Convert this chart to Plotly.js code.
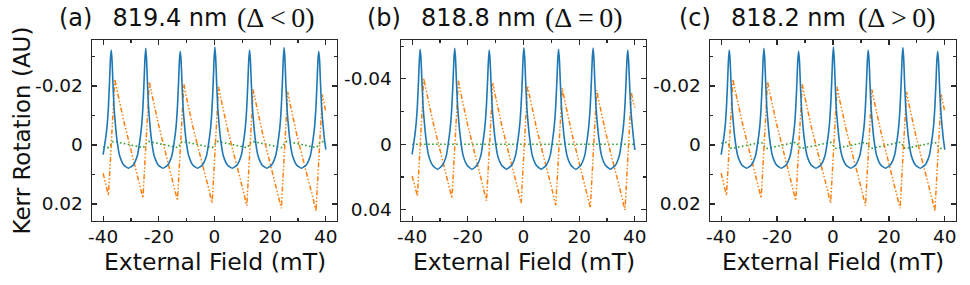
<!DOCTYPE html>
<html>
<head>
<meta charset="utf-8">
<script src="https://cdn.plot.ly/plotly-3.0.1.min.js"></script>
<style>html,body{margin:0;padding:0;background:#fff;}#chart{width:970px;height:285px;}</style>
</head>
<body>
<div id="chart"></div>
<script>
// External field (mT), shared by all curves
const field = [
 -40, -39.1, -38.6, -38.1, -37.7, -37.4, -37.1, -36.8, -36.5, -36.1, -35.8, -35.1, -34.1, -32.6, -30.9,
 -29.2, -27.7, -26.7, -26.2, -25.7, -25.3, -25.0, -24.7, -24.4, -24.1, -23.7, -23.4, -22.7, -21.7, -20.2, -18.5,
 -16.8, -15.3, -14.3, -13.8, -13.3, -12.9, -12.6, -12.3, -12.0, -11.7, -11.3, -11.0, -10.3, -9.3, -7.8, -6.1,
 -4.35, -2.85, -1.85, -1.35, -0.85, -0.45, -0.15, 0.15, 0.45, 0.75, 1.15, 1.45, 2.15, 3.15, 4.65, 6.35,
 8.1, 9.6, 10.6, 11.1, 11.6, 12.0, 12.3, 12.6, 12.9, 13.2, 13.6, 13.9, 14.6, 15.6, 17.1, 18.8,
 20.5, 22.0, 23.0, 23.5, 24.0, 24.4, 24.7, 25.0, 25.3, 25.6, 26.0, 26.3, 27.0, 28.0, 29.5, 31.2,
 32.95, 34.45, 35.45, 35.95, 36.45, 36.85, 37.15, 37.45, 37.75, 38.05, 38.45, 38.75, 39.45, 40.0
];

// Panel (a) and (c): blue (solid)
const blueA = [
 0.0033, -0.0022, -0.0062, -0.0130, -0.0215, -0.0288, -0.0322, -0.0288, -0.0215, -0.0130, -0.0092, -0.0022, 0.0036, 0.0068, 0.0079,
 0.0068, 0.0036, -0.0022, -0.0062, -0.0130, -0.0215, -0.0290, -0.0328, -0.0290, -0.0215, -0.0130, -0.0092, -0.0022, 0.0036, 0.0068, 0.0079,
 0.0068, 0.0036, -0.0022, -0.0062, -0.0130, -0.0215, -0.0286, -0.0318, -0.0286, -0.0215, -0.0130, -0.0092, -0.0022, 0.0036, 0.0068, 0.0079,
 0.0068, 0.0036, -0.0022, -0.0062, -0.0130, -0.0215, -0.0292, -0.0332, -0.0292, -0.0215, -0.0130, -0.0092, -0.0022, 0.0036, 0.0068, 0.0079,
 0.0068, 0.0036, -0.0022, -0.0062, -0.0130, -0.0215, -0.0288, -0.0322, -0.0288, -0.0215, -0.0130, -0.0092, -0.0022, 0.0036, 0.0068, 0.0079,
 0.0068, 0.0036, -0.0022, -0.0062, -0.0130, -0.0215, -0.0291, -0.0330, -0.0291, -0.0215, -0.0130, -0.0092, -0.0022, 0.0036, 0.0068, 0.0079,
 0.0068, 0.0036, -0.0022, -0.0062, -0.0130, -0.0215, -0.0286, -0.0318, -0.0286, -0.0215, -0.0130, -0.0092, -0.0022, 0.0016
];
const blueC = blueA.slice();

// orange (dash-dot)
const orangeA = [
 0.0096, 0.0131, 0.0153, 0.0171, 0.0104, 0.0052, -0.0008, -0.0068, -0.0128, -0.0195, -0.0223, -0.0190, -0.0144, -0.0081, -0.0017,
 0.0045, 0.0101, 0.0139, 0.0162, 0.0180, 0.0112, 0.0060, 0.0001, -0.0059, -0.0119, -0.0187, -0.0214, -0.0181, -0.0135, -0.0072, -0.0008,
 0.0053, 0.0109, 0.0148, 0.0170, 0.0189, 0.0121, 0.0069, 0.0009, -0.0050, -0.0110, -0.0178, -0.0206, -0.0172, -0.0127, -0.0063, 0.0001,
 0.0062, 0.0118, 0.0157, 0.0179, 0.0197, 0.0130, 0.0078, 0.0018, -0.0042, -0.0101, -0.0169, -0.0197, -0.0163, -0.0118, -0.0055, 0.0009,
 0.0071, 0.0127, 0.0165, 0.0188, 0.0206, 0.0138, 0.0087, 0.0027, -0.0033, -0.0093, -0.0160, -0.0188, -0.0155, -0.0109, -0.0046, 0.0018,
 0.0079, 0.0135, 0.0174, 0.0196, 0.0215, 0.0147, 0.0095, 0.0036, -0.0024, -0.0084, -0.0152, -0.0180, -0.0146, -0.0100, -0.0037, 0.0027,
 0.0088, 0.0144, 0.0183, 0.0205, 0.0224, 0.0156, 0.0104, 0.0044, -0.0016, -0.0075, -0.0143, -0.0171, -0.0137, -0.0112
];
const orangeC = orangeA.slice();

// green (dotted)
const greenA = [
 0.0006, 0.0008, 0.0009, 0.0009, 0.0006, 0.0002, -0.0003, -0.0008, -0.0011, -0.0012, -0.0012, -0.0010, -0.0008, -0.0005, -0.0001,
 0.0003, 0.0006, 0.0008, 0.0009, 0.0009, 0.0006, 0.0002, -0.0003, -0.0008, -0.0011, -0.0012, -0.0012, -0.0010, -0.0008, -0.0005, -0.0001,
 0.0003, 0.0006, 0.0008, 0.0009, 0.0009, 0.0006, 0.0002, -0.0003, -0.0008, -0.0011, -0.0012, -0.0012, -0.0010, -0.0008, -0.0005, -0.0001,
 0.0003, 0.0006, 0.0008, 0.0009, 0.0009, 0.0006, 0.0002, -0.0003, -0.0008, -0.0011, -0.0012, -0.0012, -0.0010, -0.0008, -0.0005, -0.0001,
 0.0003, 0.0006, 0.0008, 0.0009, 0.0009, 0.0006, 0.0002, -0.0003, -0.0008, -0.0011, -0.0012, -0.0012, -0.0010, -0.0008, -0.0005, -0.0001,
 0.0003, 0.0006, 0.0008, 0.0009, 0.0009, 0.0006, 0.0002, -0.0003, -0.0008, -0.0011, -0.0012, -0.0012, -0.0010, -0.0008, -0.0005, -0.0001,
 0.0003, 0.0006, 0.0008, 0.0009, 0.0009, 0.0006, 0.0002, -0.0003, -0.0008, -0.0011, -0.0012, -0.0012, -0.0010, -0.0009
];
const greenC = [
 -0.0006, -0.0008, -0.0009, -0.0009, -0.0006, -0.0002, 0.0003, 0.0008, 0.0011, 0.0012, 0.0012, 0.0010, 0.0008, 0.0005, 0.0001,
 -0.0003, -0.0006, -0.0008, -0.0009, -0.0009, -0.0006, -0.0002, 0.0003, 0.0008, 0.0011, 0.0012, 0.0012, 0.0010, 0.0008, 0.0005, 0.0001,
 -0.0003, -0.0006, -0.0008, -0.0009, -0.0009, -0.0006, -0.0002, 0.0003, 0.0008, 0.0011, 0.0012, 0.0012, 0.0010, 0.0008, 0.0005, 0.0001,
 -0.0003, -0.0006, -0.0008, -0.0009, -0.0009, -0.0006, -0.0002, 0.0003, 0.0008, 0.0011, 0.0012, 0.0012, 0.0010, 0.0008, 0.0005, 0.0001,
 -0.0003, -0.0006, -0.0008, -0.0009, -0.0009, -0.0006, -0.0002, 0.0003, 0.0008, 0.0011, 0.0012, 0.0012, 0.0010, 0.0008, 0.0005, 0.0001,
 -0.0003, -0.0006, -0.0008, -0.0009, -0.0009, -0.0006, -0.0002, 0.0003, 0.0008, 0.0011, 0.0012, 0.0012, 0.0010, 0.0008, 0.0005, 0.0001,
 -0.0003, -0.0006, -0.0008, -0.0009, -0.0009, -0.0006, -0.0002, 0.0003, 0.0008, 0.0011, 0.0012, 0.0012, 0.0010, 0.0009
];

// Panel (b)
const blueB = [
 0.0062, -0.0045, -0.0120, -0.0240, -0.0390, -0.0516, -0.0580, -0.0516, -0.0390, -0.0240, -0.0170, -0.0045, 0.0068, 0.0130, 0.0153,
 0.0130, 0.0068, -0.0045, -0.0120, -0.0240, -0.0390, -0.0521, -0.0586, -0.0521, -0.0390, -0.0240, -0.0170, -0.0045, 0.0068, 0.0130, 0.0153,
 0.0130, 0.0068, -0.0045, -0.0120, -0.0240, -0.0390, -0.0512, -0.0575, -0.0512, -0.0390, -0.0240, -0.0170, -0.0045, 0.0068, 0.0130, 0.0153,
 0.0130, 0.0068, -0.0045, -0.0120, -0.0240, -0.0390, -0.0525, -0.0590, -0.0525, -0.0390, -0.0240, -0.0170, -0.0045, 0.0068, 0.0130, 0.0153,
 0.0130, 0.0068, -0.0045, -0.0120, -0.0240, -0.0390, -0.0516, -0.0580, -0.0516, -0.0390, -0.0240, -0.0170, -0.0045, 0.0068, 0.0130, 0.0153,
 0.0130, 0.0068, -0.0045, -0.0120, -0.0240, -0.0390, -0.0523, -0.0588, -0.0523, -0.0390, -0.0240, -0.0170, -0.0045, 0.0068, 0.0130, 0.0153,
 0.0130, 0.0068, -0.0045, -0.0120, -0.0240, -0.0390, -0.0512, -0.0575, -0.0512, -0.0390, -0.0240, -0.0170, -0.0045, 0.0035
];
const orangeB = [
 0.0194, 0.0243, 0.0284, 0.0316, 0.0194, 0.0099, -0.0010, -0.0118, -0.0228, -0.0351, -0.0401, -0.0340, -0.0257, -0.0143, -0.0027,
 0.0084, 0.0186, 0.0257, 0.0298, 0.0330, 0.0208, 0.0113, 0.0005, -0.0104, -0.0214, -0.0336, -0.0387, -0.0326, -0.0243, -0.0129, -0.0012,
 0.0099, 0.0200, 0.0272, 0.0312, 0.0345, 0.0222, 0.0128, 0.0019, -0.0090, -0.0199, -0.0322, -0.0373, -0.0312, -0.0229, -0.0115, 0.0002,
 0.0113, 0.0215, 0.0286, 0.0326, 0.0359, 0.0236, 0.0142, 0.0033, -0.0075, -0.0185, -0.0308, -0.0358, -0.0298, -0.0214, -0.0101, 0.0016,
 0.0127, 0.0229, 0.0300, 0.0341, 0.0373, 0.0251, 0.0156, 0.0047, -0.0061, -0.0171, -0.0293, -0.0344, -0.0283, -0.0200, -0.0086, 0.0031,
 0.0142, 0.0243, 0.0314, 0.0355, 0.0388, 0.0265, 0.0170, 0.0062, -0.0047, -0.0157, -0.0279, -0.0330, -0.0269, -0.0186, -0.0072, 0.0045,
 0.0156, 0.0258, 0.0329, 0.0369, 0.0402, 0.0279, 0.0185, 0.0076, -0.0033, -0.0142, -0.0265, -0.0315, -0.0255, -0.0225
];
const fieldFlat = [-40, -20, 0, 20, 40];
const greenB = [0, 0, 0, 0, 0];

const xTickVals = [-40, -20, 0, 20, 40];
const xTickText = ['-40', '-20', '0', '20', '40'];
const yTickValsAC = [-0.02, 0, 0.02];
const yTickTextAC = ['-0.02', '0', '0.02'];
const yTickValsB = [-0.04, 0, 0.04];
const yTickTextB = ['-0.04', '0', '0.04'];

const panelTitles = ['(a)\u00a0\u00a0\u2009819.4 nm', '(b)\u00a0\u00a0\u2009818.8 nm', '(c)\u00a0\u00a0\u2009818.2 nm'];
const panelMath = ['(\u0394\u2009<\u20090)', '(\u0394\u2009=\u20090)', '(\u0394\u2009>\u20090)'];
const xTitle = 'External Field (mT)';
const yTitle = 'Kerr Rotation (AU)';

const W = 970, H = 285;
const px = v => v / W, py = v => 1 - v / H;
const FONT = 'DejaVu Sans';
const INK = '#111111';
const FRAME = '#2a2a2a';

const blueLine = {color: '#1f77b4', width: 1.6, shape: 'spline', smoothing: 0.5};
const orangeLine = {color: '#ff7f0e', width: 1.5, dash: '5px,2px,1.5px,2px,1.5px,2px'};
const greenLine = {color: '#2ca02c', width: 1.6, dash: '1.6px,2.4px'};

function tr(x, y, line, ax) {
  return {x: x, y: y, type: 'scatter', mode: 'lines', line: line,
          xaxis: 'x' + ax, yaxis: 'y' + ax, hoverinfo: 'skip', showlegend: false};
}
const data = [
  tr(field, greenA, greenLine, ''), tr(field, orangeA, orangeLine, ''), tr(field, blueA, blueLine, ''),
  tr(fieldFlat, greenB, greenLine, '2'), tr(field, orangeB, orangeLine, '2'), tr(field, blueB, blueLine, '2'),
  tr(field, greenC, greenLine, '3'), tr(field, orangeC, orangeLine, '3'), tr(field, blueC, blueLine, '3')
];

const panels = [[92, 337], [401, 646], [710, 956]];
const yDom = [py(221), py(40)];

function xa(i) {
  return {
    domain: [px(panels[i][0]), px(panels[i][1])], range: [-44, 44],
    anchor: i === 0 ? 'y' : 'y' + (i + 1),
    tickmode: 'array', tickvals: xTickVals, ticktext: xTickText,
    ticks: 'inside', ticklen: 5, tickwidth: 1.2, tickcolor: FRAME,
    minor: {ticks: 'inside', tickmode: 'linear', tick0: 0, dtick: 10, ticklen: 3, tickwidth: 1.1, tickcolor: FRAME},
    showline: true, linecolor: FRAME, linewidth: 1.4, mirror: 'allticks',
    showgrid: false, zeroline: false, fixedrange: true,
    tickfont: {family: FONT, size: 18.5, color: INK}, ticklabelstandoff: -2
  };
}
function ya(i, rng, tv, tt, minorStep) {
  return {
    domain: yDom, range: rng,
    anchor: i === 0 ? 'x' : 'x' + (i + 1),
    tickmode: 'array', tickvals: tv, ticktext: tt,
    ticks: 'inside', ticklen: 5, tickwidth: 1.2, tickcolor: FRAME,
    minor: {ticks: 'inside', tickmode: 'linear', tick0: 0, dtick: minorStep, ticklen: 3, tickwidth: 1.1, tickcolor: FRAME},
    showline: true, linecolor: FRAME, linewidth: 1.4, mirror: 'allticks',
    showgrid: false, zeroline: false, fixedrange: true,
    tickfont: {family: FONT, size: 18.5, color: INK}, ticklabelstandoff: 4
  };
}

const annotations = [];
const titleLeft = [57, 365, 677];
const mathLeft = [235, 543, 856];
for (let i = 0; i < 3; i++) {
  annotations.push({xref: 'paper', yref: 'paper', x: px(titleLeft[i]), y: py(18.3), xanchor: 'left', yanchor: 'middle',
    text: panelTitles[i], showarrow: false, font: {family: FONT, size: 24, color: INK}});
  annotations.push({xref: 'paper', yref: 'paper', x: px(mathLeft[i]), y: py(17.8), xanchor: 'left', yanchor: 'middle',
    text: panelMath[i], showarrow: false, font: {family: 'Liberation Serif', size: 28, color: INK}});
  annotations.push({xref: 'paper', yref: 'paper', x: px((panels[i][0] + panels[i][1]) / 2), y: py(261.5), xanchor: 'center', yanchor: 'middle',
    text: xTitle, showarrow: false, font: {family: FONT, size: 23.5, color: INK}});
}
annotations.push({xref: 'paper', yref: 'paper', x: px(21), y: py(130.5), xanchor: 'center', yanchor: 'middle', textangle: -90,
  text: yTitle, showarrow: false, font: {family: FONT, size: 23, color: INK}});

const layout = {
  width: W, height: H, margin: {l: 0, r: 0, t: 0, b: 0},
  paper_bgcolor: '#fff', plot_bgcolor: '#fff', showlegend: false,
  xaxis: xa(0), xaxis2: xa(1), xaxis3: xa(2),
  yaxis: ya(0, [0.0258, -0.0356], yTickValsAC, yTickTextAC, 0.01),
  yaxis2: ya(1, [0.0469, -0.0637], yTickValsB, yTickTextB, 0.02),
  yaxis3: ya(2, [0.0258, -0.0356], yTickValsAC, yTickTextAC, 0.01),
  annotations: annotations
};
Plotly.newPlot('chart', data, layout, {staticPlot: true, displayModeBar: false});
</script>
</body>
</html>
